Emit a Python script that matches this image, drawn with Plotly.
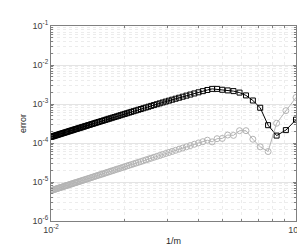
import plotly.graph_objects as go

# m values (x = 1/m)
m_vals = list(range(10, 101))

# black series (squares), indexed m = 10..100
err_black = [
    3.97e-4, 2.14e-4, 1.55e-4, 2.86e-4, 8.02e-4, 1.23e-3, 1.66e-3, 1.96e-3, 2.14e-3, 2.23e-3,  # 10-19
    2.32e-3, 2.44e-3, 2.44e-3, 2.29e-3, 2.135e-3, 1.993e-3, 1.863e-3, 1.745e-3, 1.637e-3, 1.539e-3,  # 20-29
    1.448e-3, 1.365e-3, 1.289e-3, 1.219e-3, 1.154e-3, 1.094e-3, 1.038e-3, 9.864e-4, 9.385e-4, 8.938e-4,  # 30-39
    8.523e-4, 8.134e-4, 7.772e-4, 7.432e-4, 7.115e-4, 6.816e-4, 6.536e-4, 6.272e-4, 6.024e-4, 5.790e-4,  # 40-49
    5.570e-4, 5.361e-4, 5.164e-4, 4.977e-4, 4.800e-4, 4.633e-4, 4.474e-4, 4.322e-4, 4.179e-4, 4.042e-4,  # 50-59
    3.912e-4, 3.788e-4, 3.670e-4, 3.557e-4, 3.449e-4, 3.346e-4, 3.247e-4, 3.153e-4, 3.063e-4, 2.977e-4,  # 60-69
    2.894e-4, 2.814e-4, 2.738e-4, 2.665e-4, 2.594e-4, 2.527e-4, 2.462e-4, 2.399e-4, 2.339e-4, 2.281e-4,  # 70-79
    2.225e-4, 2.172e-4, 2.120e-4, 2.069e-4, 2.021e-4, 1.974e-4, 1.929e-4, 1.886e-4, 1.844e-4, 1.803e-4,  # 80-89
    1.764e-4, 1.725e-4, 1.689e-4, 1.653e-4, 1.618e-4, 1.585e-4, 1.552e-4, 1.521e-4, 1.490e-4, 1.460e-4,  # 90-99
    1.432e-4,  # 100
]

# gray series (circles), indexed m = 10..100
err_gray = [
    1.47e-3, 6.75e-4, 3.21e-4, 6.04e-5, 7.98e-5, 1.25e-4, 2.07e-4, 2.07e-4, 1.57e-4, 1.60e-4,  # 10-19
    1.31e-4, 1.29e-4, 1.07e-4, 1.18e-4, 1.08e-4, 1.006e-4, 9.29e-5, 8.60e-5, 7.99e-5, 7.44e-5,  # 20-29
    6.95e-5, 6.50e-5, 6.09e-5, 5.72e-5, 5.39e-5, 5.08e-5, 4.80e-5, 4.54e-5, 4.30e-5, 4.08e-5,  # 30-39
    3.87e-5, 3.68e-5, 3.51e-5, 3.34e-5, 3.19e-5, 3.05e-5, 2.92e-5, 2.79e-5, 2.68e-5, 2.57e-5,  # 40-49
    2.46e-5, 2.37e-5, 2.27e-5, 2.19e-5, 2.11e-5, 2.03e-5, 1.96e-5, 1.89e-5, 1.82e-5, 1.76e-5,  # 50-59
    1.70e-5, 1.64e-5, 1.59e-5, 1.54e-5, 1.49e-5, 1.45e-5, 1.40e-5, 1.36e-5, 1.32e-5, 1.28e-5,  # 60-69
    1.24e-5, 1.21e-5, 1.17e-5, 1.14e-5, 1.11e-5, 1.08e-5, 1.05e-5, 1.02e-5, 9.99e-6, 9.73e-6,  # 70-79
    9.49e-6, 9.25e-6, 9.02e-6, 8.80e-6, 8.59e-6, 8.39e-6, 8.19e-6, 8.00e-6, 7.82e-6, 7.64e-6,  # 80-89
    7.47e-6, 7.30e-6, 7.14e-6, 6.99e-6, 6.84e-6, 6.69e-6, 6.55e-6, 6.41e-6, 6.28e-6, 6.15e-6,  # 90-99
    6.03e-6,  # 100
]

x_tickvals = [0.01, 0.1]
x_ticktext = ["10<sup>-2</sup>", "10<sup>-1</sup>"]
y_tickvals = [1e-6, 1e-5, 1e-4, 1e-3, 1e-2, 1e-1]
y_ticktext = ["10<sup>-6</sup>", "10<sup>-5</sup>", "10<sup>-4</sup>",
              "10<sup>-3</sup>", "10<sup>-2</sup>", "10<sup>-1</sup>"]

x = [1.0 / m for m in m_vals]

x_minor = [k * 10 ** e for e in (-2,) for k in range(2, 10)]
y_minor = [k * 10 ** e for e in range(-6, -1) for k in range(2, 10)]

FONT = "Liberation Sans, Arial, sans-serif"

fig = go.Figure()
fig.add_trace(go.Scatter(
    x=x, y=err_black, mode="lines+markers",
    line=dict(color="black", width=1),
    marker=dict(symbol="square-open", size=5, color="black", line=dict(width=1)),
    showlegend=False,
))
fig.add_trace(go.Scatter(
    x=x, y=err_gray, mode="lines+markers",
    line=dict(color="#b4b4b4", width=1),
    marker=dict(symbol="circle-open", size=6, color="#b4b4b4", line=dict(width=1)),
    showlegend=False,
))

axis_common = dict(
    type="log",
    showline=True, linecolor="#808080", linewidth=1, mirror="ticks",
    ticks="inside", ticklen=3, tickcolor="#808080",
    showgrid=True, gridcolor="#e4e4e4", gridwidth=1,
    zeroline=False,
    tickfont=dict(family=FONT, size=9, color="#404040"),
)

minor_common = dict(tickmode="array", ticks="inside", ticklen=2, tickcolor="#808080",
                    showgrid=True, gridcolor="#ececec", griddash="dot", gridwidth=1)

fig.update_xaxes(
    **axis_common,
    range=[-2, -1],
    tickmode="array", tickvals=x_tickvals, ticktext=x_ticktext,
    minor=dict(tickvals=x_minor, **minor_common),
    title=dict(text="1/m", font=dict(family=FONT, size=9, color="#262626"), standoff=3),
)
fig.update_yaxes(
    **axis_common,
    range=[-6, -1],
    tickmode="array", tickvals=y_tickvals, ticktext=y_ticktext,
    minor=dict(tickvals=y_minor, **minor_common),
    title=dict(text="error", font=dict(family=FONT, size=9, color="#262626"), standoff=4),
)

fig.update_layout(
    width=305, height=245,
    margin=dict(l=43, r=9, t=18, b=29),
    paper_bgcolor="white", plot_bgcolor="white",
)

fig.write_html("out.html")
